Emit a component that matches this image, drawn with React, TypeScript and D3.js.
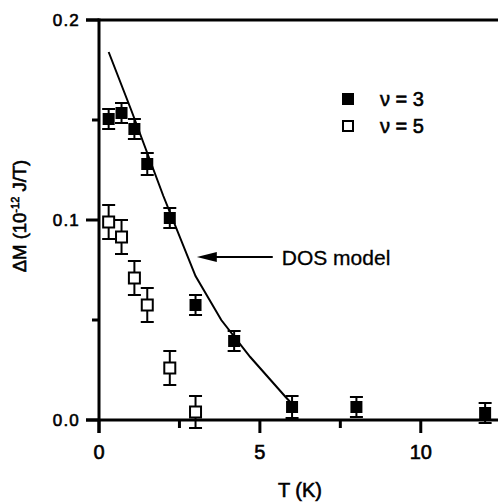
import React from "react";
import * as d3 from "d3";

// Magnetization step ΔM versus temperature for two filling factors
const tempNu3 = [0.3, 0.7, 1.1, 1.5, 2.2, 3.0, 4.2, 6.0, 8.0, 12.0];
const dmNu3 = [0.1505, 0.1535, 0.1455, 0.128, 0.101, 0.0575, 0.0395, 0.0065, 0.0065, 0.0035];
const errNu3 = [0.005, 0.005, 0.005, 0.0055, 0.005, 0.005, 0.005, 0.0055, 0.005, 0.005];

const tempNu5 = [0.3, 0.7, 1.1, 1.5, 2.2, 3.0];
const dmNu5 = [0.099, 0.0915, 0.071, 0.0575, 0.026, 0.004];
const errNu5 = [0.0085, 0.0085, 0.0085, 0.0085, 0.0085, 0.008];

// DOS model curve
const modelT = [0.3, 1.0, 2.0, 3.0, 3.8, 4.7, 5.8, 6.0];
const modelDM = [0.184, 0.155, 0.112, 0.072, 0.05, 0.0315, 0.0115, 0.008];

const xMajor = [0, 5, 10];
const xMinor = [2.5, 7.5];
const yMajor = [0, 0.1, 0.2];
const yMinor = [0.05, 0.15];

const W = 498;
const H = 502;
const FONT = "'Liberation Sans', Arial, Helvetica, sans-serif";

// a light outline gives the lettering a medium weight
const textStyle = { stroke: "#000", strokeWidth: 0.6, fill: "#000" };

export default function App() {
  const x = d3.scaleLinear().domain([0, 12.4]).range([99, 498]);
  const y = d3.scaleLinear().domain([0, 0.2]).range([420, 20]);

  const line = d3
    .line<number>()
    .x((_, i) => x(modelT[i]))
    .y((d) => y(d));

  const cap = 6.5;
  const axisW = 3;

  const errorBars = (ts: number[], vs: number[], es: number[], key: string) =>
    ts.map((t, i) => {
      const cx = x(t);
      const y1 = y(vs[i] + es[i]);
      const y2 = y(vs[i] - es[i]);
      return (
        <g key={key + i} stroke="#000" strokeWidth={2}>
          <line x1={cx} x2={cx} y1={y1} y2={y2} />
          <line x1={cx - cap} x2={cx + cap} y1={y1} y2={y1} />
          <line x1={cx - cap} x2={cx + cap} y1={y2} y2={y2} />
        </g>
      );
    });

  const arrowY = y(0.0815);
  const arrowTip = x(3.04);
  const arrowEnd = x(5.4);

  return (
    <svg
      width={W}
      height={H}
      style={{ position: "absolute", left: 0, top: 0, background: "#fff" }}
      fontFamily={FONT}
    >
      {/* axes frame */}
      <g stroke="#000" strokeWidth={axisW} strokeLinecap="butt">
        <line x1={86} x2={W} y1={y(0.2)} y2={y(0.2)} />
        <line x1={86} x2={W} y1={y(0)} y2={y(0)} />
        <line x1={x(0)} x2={x(0)} y1={y(0.2) - 1.5} y2={433} />
        {yMajor.map((v) => (
          <line key={"ym" + v} x1={86} x2={x(0)} y1={y(v)} y2={y(v)} />
        ))}
        {yMinor.map((v) => (
          <line key={"yn" + v} x1={92} x2={x(0)} y1={y(v)} y2={y(v)} />
        ))}
        {xMajor.map((v) => (
          <line key={"xm" + v} x1={x(v)} x2={x(v)} y1={y(0)} y2={433} />
        ))}
        {xMinor.map((v) => (
          <line key={"xn" + v} x1={x(v)} x2={x(v)} y1={y(0)} y2={428} />
        ))}
      </g>

      {/* tick labels */}
      <g fontSize={17} textAnchor="end" style={textStyle} letterSpacing={1.2}>
        {yMajor.map((v) => (
          <text key={"yl" + v} x={80} y={y(v) + 6}>
            {v.toFixed(1)}
          </text>
        ))}
      </g>
      <g fontSize={20} textAnchor="middle" style={textStyle}>
        {xMajor.map((v) => (
          <text key={"xl" + v} x={x(v)} y={459}>
            {v}
          </text>
        ))}
      </g>

      {/* axis titles */}
      <text x={300} y={497} fontSize={20} textAnchor="middle" style={textStyle}>
        T (K)
      </text>
      <text
        transform={`translate(26, 216) rotate(-90)`}
        fontSize={18.5}
        textAnchor="middle"
        style={textStyle}
      >
        ΔM (10
        <tspan dy={-7} fontSize={11}>
          -12
        </tspan>
        <tspan dy={7}> J/T)</tspan>
      </text>

      {/* model curve */}
      <path d={line(modelDM) || ""} fill="none" stroke="#000" strokeWidth={2} />

      {/* error bars */}
      {errorBars(tempNu5, dmNu5, errNu5, "e5")}
      {errorBars(tempNu3, dmNu3, errNu3, "e3")}

      {/* markers */}
      {tempNu5.map((t, i) => (
        <rect
          key={"o" + i}
          x={x(t) - 5.5}
          y={y(dmNu5[i]) - 5.5}
          width={11}
          height={11}
          fill="#fff"
          stroke="#000"
          strokeWidth={2}
        />
      ))}
      {tempNu3.map((t, i) => (
        <rect
          key={"f" + i}
          x={x(t) - 6}
          y={y(dmNu3[i]) - 6}
          width={12}
          height={12}
          fill="#000"
        />
      ))}

      {/* annotation */}
      <line x1={arrowTip + 16} x2={arrowEnd} y1={arrowY} y2={arrowY} stroke="#000" strokeWidth={2} />
      <path
        d={`M${arrowTip},${arrowY} L${arrowTip + 20},${arrowY - 5} L${arrowTip + 20},${arrowY + 5} Z`}
        fill="#000"
      />
      <text x={x(5.68)} y={arrowY + 8} fontSize={21} style={{ ...textStyle, strokeWidth: 0.3 }}>
        DOS model
      </text>

      {/* legend */}
      <rect x={342} y={93} width={12} height={12} fill="#000" />
      <text x={380} y={106} fontSize={20} style={textStyle}>
        ν = 3
      </text>
      <rect x={343} y={121} width={10} height={10} fill="#fff" stroke="#000" strokeWidth={2} />
      <text x={380} y={133} fontSize={20} style={textStyle}>
        ν = 5
      </text>
    </svg>
  );
}
